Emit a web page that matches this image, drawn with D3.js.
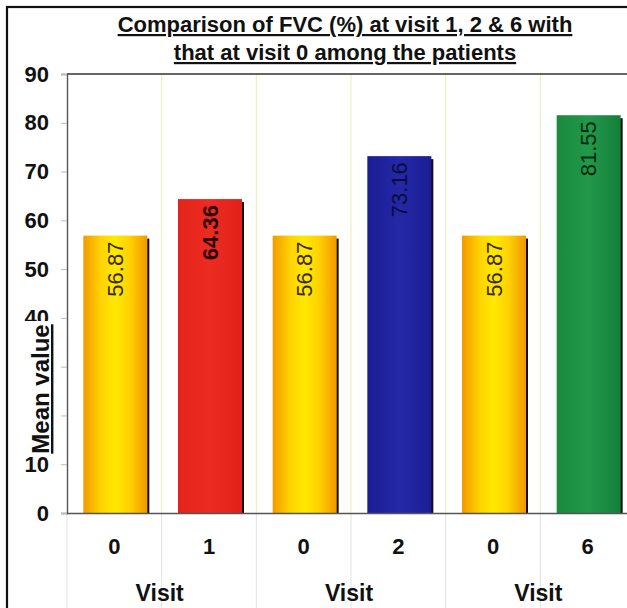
<!DOCTYPE html>
<html>
<head>
<meta charset="utf-8">
<script src="https://cdn.jsdelivr.net/npm/d3@7/dist/d3.min.js"></script>
<style>
html,body{margin:0;padding:0;background:#fff;}
svg{display:block;font-family:"Liberation Sans",Arial,sans-serif;}
</style>
</head>
<body>
<svg id="chart" width="627" height="608"></svg>
<script>
// ---- data ----
const titleLines = ["Comparison of FVC (%) at visit 1, 2 & 6 with", "that at visit 0 among the patients"];
const categories = ["0", "1", "0", "2", "0", "6"];
const groups = ["Visit", "Visit", "Visit"];
const values = [56.87, 64.36, 56.87, 73.16, 56.87, 81.55];
const yTicks = [0, 10, 20, 30, 40, 50, 60, 70, 80, 90];
const yLabel = "Mean value";

// ---- styles ----
const barFills = ["url(#gYellow)", "url(#gRed)", "url(#gYellow)", "url(#gBlue)", "url(#gYellow)", "url(#gGreen)"];
const labelColors = ["#3a2a00", "#2a0000", "#3a2a00", "#0a0c40", "#3a2a00", "#0a2a12"];
const labelWeights = ["normal", "bold", "normal", "normal", "normal", "normal"];

const svg = d3.select("#chart");
const W = 627, H = 608;
const m = {left: 67, top: 74, bottom: 513, right: 635};

// gradients
const defs = svg.append("defs");
function grad(id, stops) {
  const g = defs.append("linearGradient").attr("id", id).attr("x1", "0%").attr("x2", "100%").attr("y1", "0%").attr("y2", "0%");
  stops.forEach(s => g.append("stop").attr("offset", s[0]).attr("stop-color", s[1]));
}
grad("gYellow", [["0%", "#f39a00"], ["28%", "#ffd400"], ["50%", "#ffe900"], ["72%", "#ffd200"], ["100%", "#f29800"]]);
grad("gRed", [["0%", "#e4241c"], ["50%", "#ec2c22"], ["100%", "#e2221a"]]);
grad("gBlue", [["0%", "#1a1d92"], ["50%", "#2428a6"], ["100%", "#1b1e94"]]);
grad("gGreen", [["0%", "#1a8a3e"], ["50%", "#21984a"], ["100%", "#15803a"]]);

// scales
const x = d3.scaleBand().domain(d3.range(categories.length)).range([m.left, m.right]).paddingInner(0.324).paddingOuter(0.162);
const y = d3.scaleLinear().domain([0, 90]).range([m.bottom, m.top]);
const step = x.step();
const x0 = x.range()[0];

// outer frame
svg.append("rect").attr("x", 7).attr("y", 7).attr("width", 660).attr("height", 640)
  .attr("fill", "none").attr("stroke", "#111").attr("stroke-width", 2.2);

// vertical grid lines inside plot
const bounds = d3.range(1, categories.length);
svg.append("g").selectAll("line").data(bounds).join("line")
  .attr("x1", d => x0 + d * step).attr("x2", d => x0 + d * step)
  .attr("y1", y(90)).attr("y2", y(0))
  .attr("stroke", "#eeeec4").attr("stroke-width", 1.2);

// separator lines below axis
svg.append("g").selectAll("line").data(d3.range(0, categories.length)).join("line")
  .attr("x1", d => x0 + d * step).attr("x2", d => x0 + d * step)
  .attr("y1", y(0)).attr("y2", H)
  .attr("stroke", "#e2e2e2").attr("stroke-width", 1);

// top border of plot (at 90)
svg.append("line").attr("x1", m.left).attr("x2", W).attr("y1", y(90)).attr("y2", y(90))
  .attr("stroke", "#333").attr("stroke-width", 1.6);

// bars: shadow + bar
const bars = svg.append("g");
bars.selectAll("rect.sh").data(values).join("rect").attr("class", "sh")
  .attr("x", (d, i) => x(i) + 3).attr("y", d => y(d) + 3)
  .attr("width", x.bandwidth()).attr("height", d => y(0) - y(d) - 3)
  .attr("fill", "#111");
bars.selectAll("rect.bar").data(values).join("rect").attr("class", "bar")
  .attr("x", (d, i) => x(i) + 1).attr("y", d => y(d))
  .attr("width", x.bandwidth()).attr("height", d => y(0) - y(d))
  .attr("fill", (d, i) => barFills[i]);

// value labels
svg.append("g").selectAll("text").data(values).join("text")
  .attr("transform", (d, i) => `translate(${x(i) + 1 + x.bandwidth() / 2},${y(d) + 6}) rotate(-90)`)
  .attr("text-anchor", "end").attr("dominant-baseline", "central")
  .attr("font-size", 22).attr("font-weight", (d, i) => labelWeights[i])
  .attr("fill", (d, i) => labelColors[i])
  .text(d => d.toFixed(2));

// y axis
const yAxis = d3.axisLeft(y).tickValues(yTicks).tickSize(6).tickPadding(12).tickFormat(d3.format("d"));
const gy = svg.append("g").attr("transform", `translate(${m.left},0)`).call(yAxis);
gy.select(".domain").attr("stroke", "#555").attr("stroke-width", 1.4);
gy.selectAll(".tick line").attr("stroke", "#bbb");
gy.selectAll(".tick text").attr("font-size", 22).attr("font-weight", "bold").attr("fill", "#111")
  .attr("font-family", "'Liberation Sans',Arial,sans-serif");

// x axis baseline
const xAxis = d3.axisBottom(x).tickSize(0).tickPadding(25).tickFormat(i => categories[i]);
const gx = svg.append("g").attr("transform", `translate(0,${m.bottom})`).call(xAxis);
gx.select(".domain").attr("d", `M${m.left},0.5H${W}`).attr("stroke", "#555").attr("stroke-width", 1.4);
gx.selectAll(".tick text").attr("font-size", 22).attr("font-weight", "bold").attr("fill", "#111")
  .attr("font-family", "'Liberation Sans',Arial,sans-serif");

// group labels
svg.append("g").selectAll("text").data(groups).join("text")
  .attr("x", (d, i) => x0 + (2 * i + 1) * step - 2)
  .attr("y", 601)
  .attr("text-anchor", "middle").attr("font-size", 23).attr("font-weight", "bold").attr("fill", "#111")
  .text(d => d);

// y label with white background
svg.append("rect").attr("x", 20).attr("y", 321).attr("width", 33).attr("height", 136).attr("fill", "#fff");
svg.append("text")
  .attr("transform", `translate(49,389) rotate(-90)`)
  .attr("text-anchor", "middle")
  .attr("font-size", 24).attr("font-weight", "bold").attr("fill", "#111")
  .attr("text-decoration", "underline")
  .text(yLabel);

// title
svg.append("g").selectAll("text").data(titleLines).join("text")
  .attr("x", 345).attr("y", (d, i) => 32 + i * 28)
  .attr("text-anchor", "middle").attr("font-size", 22).attr("font-weight", "bold").attr("fill", "#111")
  .attr("text-decoration", "underline")
  .text(d => d);
</script>
</body>
</html>
